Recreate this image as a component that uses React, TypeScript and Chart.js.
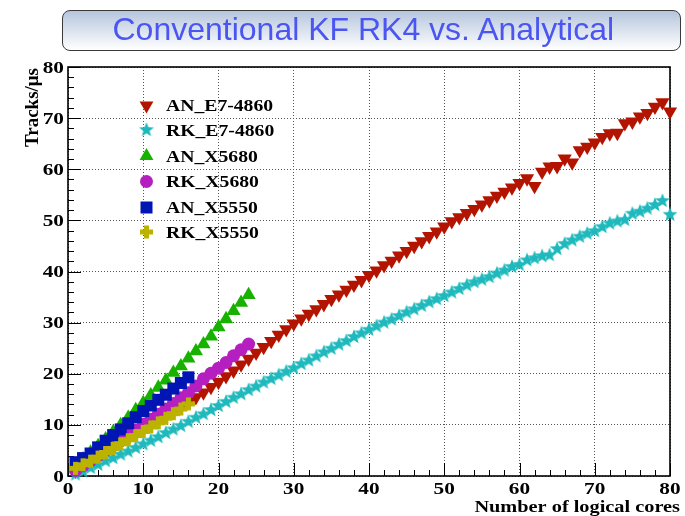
import React, { useEffect, useRef } from 'react';
import { Chart, registerables } from 'chart.js';

Chart.register(...registerables);

// ---- data (x = number of logical cores, starting at 1) ----
const xTickLabels = ['0', '10', '20', '30', '40', '50', '60', '70', '80'];
const yTickLabels = ['0', '10', '20', '30', '40', '50', '60', '70', '80'];

const anE7 = [
  1.0, 1.9, 2.8, 3.7, 4.6, 5.5, 6.4, 7.3, 8.2, 9.1,
  10.0, 10.9, 11.8, 12.7, 13.6, 14.5, 15.4, 16.3, 17.4, 18.4,
  19.5, 20.6, 21.8, 22.9, 24.1, 25.2, 26.4, 27.6, 28.7, 29.8,
  30.8, 31.7, 32.6, 33.6, 34.6, 35.5, 36.4, 37.4, 38.3, 39.3,
  40.2, 41.2, 42.1, 43.1, 44.0, 45.0, 45.9, 46.9, 47.8, 48.8,
  49.8, 50.6, 51.4, 52.2, 53.1, 53.9, 54.8, 55.6, 56.4, 57.3,
  58.2, 56.7, 59.5, 60.5, 60.6, 62.1, 61.3, 63.7, 64.4, 65.2,
  66.3, 67.0, 67.1, 69.0, 69.3, 70.3, 71.0, 72.2, 73.1, 71.3,
];
const rkE7 = [
  0.3, 0.9, 1.6, 2.2, 2.9, 3.5, 4.2, 4.8, 5.5, 6.2,
  6.9, 7.6, 8.4, 9.1, 9.8, 10.6, 11.4, 12.1, 12.9, 13.7,
  14.5, 15.3, 16.0, 16.8, 17.5, 18.3, 19.0, 19.7, 20.4, 21.1,
  21.9, 22.6, 23.4, 24.2, 24.9, 25.7, 26.4, 27.2, 27.9, 28.6,
  29.3, 30.0, 30.6, 31.3, 32.0, 32.6, 33.3, 34.0, 34.6, 35.2,
  35.9, 36.6, 37.3, 37.9, 38.4, 38.9, 39.6, 40.2, 40.9, 41.3,
  42.2, 42.6, 43.0, 43.2, 44.4, 45.4, 46.1, 46.8, 47.4, 47.9,
  48.7, 49.4, 49.8, 50.1, 51.3, 51.7, 52.3, 53.0, 53.8, 51.1,
];
const anX5680 = [
  1.9, 3.3, 4.6, 5.9, 7.2, 8.6, 10.0, 11.4, 12.9, 14.3,
  15.8, 17.3, 18.7, 20.2, 21.5, 23.0, 24.4, 25.8, 27.3, 29.1,
  30.7, 32.3, 33.9, 35.4,
];
const rkX5680 = [
  1.1, 2.0, 3.0, 4.0, 5.0, 6.0, 7.0, 8.0, 9.0, 10.1,
  11.1, 12.1, 13.1, 14.2, 15.3, 16.3, 17.6, 19.0, 20.1, 21.1,
  22.2, 23.5, 24.7, 25.8,
];
const anX5550 = [
  2.7, 3.5, 4.4, 5.6, 6.9, 8.0, 9.1, 10.3, 11.5, 12.7,
  13.8, 14.9, 15.9, 17.1, 18.2, 19.3,
];
const rkX5550 = [
  1.5, 2.2, 2.9, 3.7, 4.6, 5.4, 6.3, 7.1, 7.9, 8.7,
  9.6, 10.4, 11.3, 12.2, 13.1, 14.1,
];

const seriesNames = ['AN_E7-4860', 'RK_E7-4860', 'AN_X5680', 'RK_X5680', 'AN_X5550', 'RK_X5550'];
const seriesColors = ['#b31400', '#1fb9bd', '#17b200', '#b51fc0', '#0015b3', '#bcb300'];

const toPoints = (vals: number[]) => vals.map((v, i) => ({ x: i + 1, y: v }));

function makeStar(color: string, R: number, r: number) {
  const size = Math.ceil(R * 2 + 2);
  const cv = document.createElement('canvas');
  cv.width = size; cv.height = size;
  const g = cv.getContext('2d')!;
  g.fillStyle = color;
  g.beginPath();
  for (let i = 0; i < 10; i++) {
    const a = -Math.PI / 2 + (i * Math.PI) / 5;
    const rad = i % 2 === 0 ? R : r;
    g.lineTo(size / 2 + rad * Math.cos(a), size / 2 + rad * Math.sin(a));
  }
  g.closePath();
  g.fill();
  return cv;
}

function makePlus(color: string, L: number, t: number) {
  const size = Math.ceil(L + 2);
  const cv = document.createElement('canvas');
  cv.width = size; cv.height = size;
  const g = cv.getContext('2d')!;
  g.fillStyle = color;
  const c = size / 2;
  g.fillRect(c - L / 2, c - t / 2, L, t);
  g.fillRect(c - t / 2, c - L / 2, t, L);
  return cv;
}

const SERIF = 'bold 16px "Liberation Serif", "Times New Roman", serif';

function stretchText(ctx: CanvasRenderingContext2D, s: string, x: number, y: number, align: string, sx: number, font = SERIF) {
  ctx.save();
  ctx.font = font;
  ctx.fillStyle = '#000';
  ctx.textAlign = 'left';
  ctx.textBaseline = 'alphabetic';
  const w = ctx.measureText(s).width * sx;
  const x0 = align === 'left' ? x : align === 'right' ? x - w : x - w / 2;
  ctx.translate(x0, y);
  ctx.scale(sx, 1);
  ctx.fillText(s, 0, 0);
  ctx.restore();
}

export default function App() {
  const ref = useRef<HTMLCanvasElement>(null);

  useEffect(() => {
    const canvas = ref.current!;
    const star = makeStar(seriesColors[1], 7.8, 3.3);
    const plus = makePlus(seriesColors[5], 13, 5);

    const framePlugin = {
      id: 'rootFrame',
      beforeDatasetsDraw(chart: any) {
        const { ctx, chartArea: a, scales } = chart;
        const xs = scales.x, ys = scales.y;
        ctx.save();
        ctx.strokeStyle = '#000';
        ctx.lineWidth = 1;
        for (let v = 0; v <= 80; v += 2) {
          const major = v % 10 === 0;
          const len = major ? 13 : 6;
          const px = Math.round(xs.getPixelForValue(v)) + 0.5;
          ctx.beginPath(); ctx.moveTo(px, a.bottom); ctx.lineTo(px, a.bottom - len); ctx.stroke();
          const py = Math.round(ys.getPixelForValue(v)) + 0.5;
          ctx.beginPath(); ctx.moveTo(a.left, py); ctx.lineTo(a.left + len, py); ctx.stroke();
        }
        ctx.lineWidth = 1.6;
        ctx.strokeRect(a.left, a.top, a.right - a.left, a.bottom - a.top);
        ctx.restore();
      },
      afterDraw(chart: any) {
        const { ctx, chartArea: a, scales } = chart;
        const xs = scales.x, ys = scales.y;
        xTickLabels.forEach((lab) => {
          const px = xs.getPixelForValue(Number(lab));
          stretchText(ctx, lab, px, a.bottom + 18, 'center', 1.33);
        });
        yTickLabels.forEach((lab) => {
          const py = ys.getPixelForValue(Number(lab));
          stretchText(ctx, lab, a.left - 4, py + 5.5, 'right', 1.33);
        });
        stretchText(ctx, 'Number of logical cores', 680, 512, 'right', 1.27);
        ctx.save();
        ctx.translate(38, a.top + 1);
        ctx.rotate(-Math.PI / 2);
        ctx.font = 'bold 19px "Liberation Serif", "Times New Roman", serif';
        ctx.fillStyle = '#000';
        ctx.textAlign = 'right';
        ctx.textBaseline = 'alphabetic';
        ctx.fillText('Tracks/\u03bcs', 0, 0);
        ctx.restore();
        const mx = 146.5, tx = 166;
        const rows = [105.5, 130, 156, 181.5, 207.5, 232];
        rows.forEach((cy, i) => {
          ctx.save();
          ctx.fillStyle = seriesColors[i];
          if (i === 0 || i === 2) {
            const r = 8;
            const dir = i === 0 ? 1 : -1;
            ctx.beginPath();
            ctx.moveTo(mx, cy + dir * r);
            ctx.lineTo(mx - r * 0.866, cy - dir * r * 0.5);
            ctx.lineTo(mx + r * 0.866, cy - dir * r * 0.5);
            ctx.closePath();
            ctx.fill();
          } else if (i === 1) {
            ctx.drawImage(star, mx - star.width / 2, cy - star.height / 2);
          } else if (i === 3) {
            ctx.beginPath(); ctx.arc(mx, cy, 6.5, 0, Math.PI * 2); ctx.fill();
          } else if (i === 4) {
            ctx.fillRect(mx - 6, cy - 6, 12, 12);
          } else {
            ctx.drawImage(plus, mx - plus.width / 2, cy - plus.height / 2);
          }
          ctx.restore();
          stretchText(ctx, seriesNames[i], tx, cy + 5.5, 'left', 1.23);
        });
      },
    };

    const common = { showLine: false, pointBorderWidth: 0, clip: false as any };
    const chart = new Chart(canvas, {
      type: 'scatter',
      data: {
        datasets: [
          { ...common, label: seriesNames[0], data: toPoints(anE7), pointStyle: 'triangle', pointRotation: 180, pointRadius: 8.2, backgroundColor: seriesColors[0], borderColor: seriesColors[0], order: 5 },
          { ...common, label: seriesNames[1], data: toPoints(rkE7), pointStyle: star as any, pointRadius: 6, backgroundColor: seriesColors[1], borderColor: seriesColors[1], order: 4 },
          { ...common, label: seriesNames[2], data: toPoints(anX5680), pointStyle: 'triangle', pointRadius: 8.2, backgroundColor: seriesColors[2], borderColor: seriesColors[2], order: 3 },
          { ...common, label: seriesNames[3], data: toPoints(rkX5680), pointStyle: 'circle', pointRadius: 6.5, backgroundColor: seriesColors[3], borderColor: seriesColors[3], order: 2 },
          { ...common, label: seriesNames[4], data: toPoints(anX5550), pointStyle: 'rect', pointRadius: 8.5, backgroundColor: seriesColors[4], borderColor: seriesColors[4], order: 1 },
          { ...common, label: seriesNames[5], data: toPoints(rkX5550), pointStyle: plus as any, pointRadius: 6, backgroundColor: seriesColors[5], borderColor: seriesColors[5], order: 0 },
        ],
      },
      options: {
        responsive: false,
        animation: false,
        devicePixelRatio: 1,
        layout: { padding: { top: 67, right: 15, left: 0, bottom: 0 } },
        plugins: { legend: { display: false }, tooltip: { enabled: false }, title: { display: false } },
        scales: {
          x: {
            type: 'linear', min: 0, max: 80,
            ticks: { stepSize: 10, display: false },
            grid: { color: '#555', lineWidth: 1, drawTicks: false },
            border: { display: false, dash: [1, 2] },
            afterFit: (s: any) => { s.height = 40; },
          },
          y: {
            type: 'linear', min: 0, max: 80,
            ticks: { stepSize: 10, display: false },
            grid: { color: '#555', lineWidth: 1, drawTicks: false },
            border: { display: false, dash: [1, 2] },
            afterFit: (s: any) => { s.width = 68; },
          },
        },
      } as any,
      plugins: [framePlugin],
    });
    return () => chart.destroy();
  }, []);

  return (
    <div style={{ position: 'fixed', left: 0, top: 0, width: 685, height: 516, background: '#fff', overflow: 'hidden' }}>
      <canvas ref={ref} width={685} height={516} style={{ position: 'absolute', left: 0, top: 0, width: 685, height: 516 }} />
      <div
        style={{
          position: 'absolute', left: 62, top: 10, width: 619, height: 41, boxSizing: 'border-box',
          border: '1.5px solid #3a3a3a', borderRadius: 8,
          background: 'linear-gradient(#b6c5dd, #ffffff)',
        }}
      >
        <span
          style={{
            position: 'absolute', left: 49.5, top: 2.4, whiteSpace: 'nowrap',
            font: '32px "Liberation Sans", Arial, sans-serif', lineHeight: '32px', color: '#4a55f2',
          }}
        >
          Conventional KF RK4 vs. Analytical
        </span>
      </div>
    </div>
  );
}
